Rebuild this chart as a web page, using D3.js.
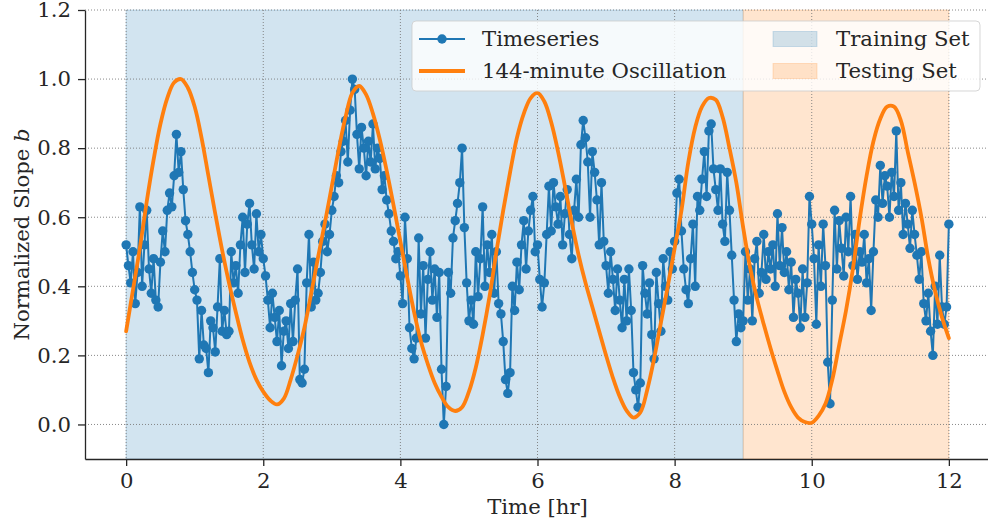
<!DOCTYPE html>
<html>
<head>
<meta charset="utf-8">
<script src="https://cdn.jsdelivr.net/npm/d3@7"></script>
<style>
  body { margin: 0; background: #fff; }
  svg { display: block; font-family: 'DejaVu Serif', serif; }
</style>
</head>
<body>
<main></main>
<script>
// normalized slope, one reading every 2 minutes from 0 to 12 hr (one row per hour)
const timeseriesStepMinutes = 2;
const timeseriesValues = [
  0.52, 0.46, 0.41, 0.50, 0.35, 0.44, 0.63, 0.40, 0.52, 0.62, 0.45, 0.38, 0.48, 0.36, 0.34, 0.47, 0.56, 0.50, 0.62, 0.67, 0.63, 0.72, 0.84, 0.73, 0.79, 0.68, 0.59, 0.55, 0.50, 0.44,
  0.39, 0.36, 0.19, 0.33, 0.23, 0.22, 0.15, 0.30, 0.28, 0.21, 0.34, 0.48, 0.27, 0.33, 0.26, 0.27, 0.50, 0.41, 0.46, 0.38, 0.52, 0.60, 0.44, 0.58, 0.64, 0.52, 0.45, 0.61, 0.50, 0.55,
  0.48, 0.43, 0.36, 0.28, 0.38, 0.31, 0.24, 0.33, 0.17, 0.27, 0.30, 0.22, 0.35, 0.24, 0.36, 0.45, 0.13, 0.12, 0.16, 0.41, 0.55, 0.34, 0.47, 0.36, 0.38, 0.44, 0.53, 0.58, 0.50, 0.55,
  0.62, 0.66, 0.72, 0.70, 0.79, 0.82, 0.88, 0.76, 0.91, 1.00, 0.97, 0.84, 0.74, 0.86, 0.80, 0.72, 0.82, 0.76, 0.87, 0.74, 0.80, 0.77, 0.68, 0.72, 0.65, 0.61, 0.56, 0.53, 0.48, 0.50,
  0.43, 0.35, 0.60, 0.48, 0.28, 0.22, 0.19, 0.25, 0.54, 0.32, 0.46, 0.25, 0.42, 0.50, 0.36, 0.45, 0.31, 0.44, 0.16, 0.00, 0.11, 0.44, 0.38, 0.54, 0.59, 0.64, 0.70, 0.80, 0.57, 0.41,
  0.30, 0.36, 0.29, 0.50, 0.37, 0.48, 0.63, 0.40, 0.52, 0.44, 0.55, 0.38, 0.50, 0.35, 0.32, 0.24, 0.13, 0.09, 0.15, 0.40, 0.33, 0.47, 0.39, 0.52, 0.59, 0.45, 0.56, 0.62, 0.66, 0.50,
  0.52, 0.42, 0.34, 0.41, 0.55, 0.69, 0.56, 0.70, 0.63, 0.58, 0.66, 0.52, 0.61, 0.68, 0.55, 0.48, 0.62, 0.71, 0.60, 0.81, 0.88, 0.83, 0.76, 0.60, 0.79, 0.73, 0.65, 0.52, 0.70, 0.53,
  0.46, 0.38, 0.50, 0.42, 0.33, 0.45, 0.36, 0.28, 0.42, 0.30, 0.45, 0.33, 0.15, 0.10, 0.05, 0.12, 0.46, 0.38, 0.32, 0.41, 0.26, 0.19, 0.44, 0.35, 0.27, 0.48, 0.40, 0.36, 0.50, 0.45,
  0.53, 0.67, 0.71, 0.56, 0.45, 0.39, 0.35, 0.48, 0.58, 0.40, 0.66, 0.62, 0.71, 0.79, 0.66, 0.85, 0.87, 0.74, 0.68, 0.62, 0.74, 0.58, 0.53, 0.73, 0.62, 0.49, 0.36, 0.24, 0.32, 0.28,
  0.30, 0.50, 0.36, 0.45, 0.30, 0.48, 0.53, 0.38, 0.44, 0.55, 0.42, 0.50, 0.45, 0.52, 0.40, 0.61, 0.46, 0.57, 0.44, 0.50, 0.39, 0.47, 0.31, 0.42, 0.38, 0.28, 0.45, 0.31, 0.41, 0.66,
  0.58, 0.48, 0.29, 0.52, 0.40, 0.58, 0.46, 0.18, 0.06, 0.36, 0.62, 0.45, 0.59, 0.51, 0.43, 0.60, 0.50, 0.66, 0.46, 0.55, 0.42, 0.50, 0.47, 0.55, 0.41, 0.48, 0.33, 0.50, 0.65, 0.60,
  0.75, 0.64, 0.72, 0.69, 0.60, 0.73, 0.66, 0.85, 0.62, 0.70, 0.55, 0.64, 0.58, 0.51, 0.62, 0.55, 0.49, 0.42, 0.50, 0.35, 0.30, 0.38, 0.27, 0.20, 0.40, 0.29, 0.49, 0.34, 0.29, 0.34,
  0.58
];

const oscillationStepMinutes = 6;
const oscillationValues = [
  0.27, 0.39, 0.51, 0.645, 0.766, 0.87, 0.945, 0.99, 1.0, 0.975,
  0.92, 0.83, 0.72, 0.61, 0.505, 0.41, 0.325, 0.245, 0.18, 0.13,
  0.095, 0.07, 0.058, 0.075, 0.13, 0.20, 0.28, 0.38, 0.485, 0.585,
  0.69, 0.795, 0.89, 0.96, 0.98, 0.955, 0.90, 0.825, 0.735, 0.635,
  0.53, 0.425, 0.325, 0.24, 0.175, 0.12, 0.08, 0.05, 0.039, 0.05,
  0.095, 0.165, 0.26, 0.37, 0.50, 0.62, 0.73, 0.83, 0.90, 0.945,
  0.96, 0.935, 0.875, 0.79, 0.69, 0.585, 0.49, 0.41, 0.34, 0.27,
  0.20, 0.135, 0.08, 0.04, 0.02, 0.035, 0.10, 0.19, 0.295, 0.40,
  0.51, 0.62, 0.76, 0.86, 0.92, 0.945, 0.94, 0.89, 0.80, 0.70,
  0.57, 0.455, 0.365, 0.29, 0.22, 0.155, 0.095, 0.05, 0.02, 0.007,
  0.005, 0.025, 0.06, 0.13, 0.23, 0.33, 0.45, 0.595, 0.72, 0.82,
  0.885, 0.92, 0.92, 0.88, 0.79, 0.70, 0.60, 0.48, 0.385, 0.31,
  0.25
];

const xTicks = [0, 2, 4, 6, 8, 10, 12];
const yTicks = [0, 0.2, 0.4, 0.6, 0.8, 1.0, 1.2];
const seriesNames = ['Timeseries', '144-minute Oscillation'];
const splitNames = ['Training Set', 'Testing Set'];
const splitStarts = [0, 9];
const splitEnds = [9, 12];

const blue = '#1f77b4';
const orange = '#ff7f0e';
const ink = '#262626';
const fontSize = 21.2;

const timeseries = timeseriesValues.map((v, i) => ({ t: (i * timeseriesStepMinutes) / 60, v }));
const oscillation = oscillationValues.map((v, i) => ({ t: (i * oscillationStepMinutes) / 60, v }));
const splits = splitNames.map((name, i) => ({
  name,
  start: splitStarts[i],
  end: splitEnds[i],
  color: i === 0 ? blue : orange,
}));

const main = d3.select('main');

function drawChart() {
  const dimensions = {
    width: 988,
    height: 523,
    margin: { top: 10, right: -2, bottom: 64, left: 85 },
  };
  dimensions.boundedWidth =
    dimensions.width - (dimensions.margin.left + dimensions.margin.right);
  dimensions.boundedHeight =
    dimensions.height - (dimensions.margin.top + dimensions.margin.bottom);

  const xScale = d3
    .scaleLinear()
    .domain([-0.6, 12.6])
    .range([0, dimensions.boundedWidth]);
  const yScale = d3
    .scaleLinear()
    .domain([-0.1, 1.2])
    .range([dimensions.boundedHeight, 0]);

  const svg = main
    .append('svg')
    .attr('viewBox', [0, 0, dimensions.width, dimensions.height])
    .attr('width', dimensions.width)
    .attr('height', dimensions.height);

  const viz = svg
    .append('g')
    .attr('transform', `translate(${dimensions.margin.left} ${dimensions.margin.top})`);

  // training / testing spans
  viz
    .append('g')
    .selectAll('rect')
    .data(splits)
    .enter()
    .append('rect')
    .attr('x', d => xScale(d.start))
    .attr('y', 0)
    .attr('width', d => xScale(d.end) - xScale(d.start))
    .attr('height', dimensions.boundedHeight)
    .attr('fill', d => d.color)
    .attr('fill-opacity', 0.2)
    .attr('stroke', d => d.color)
    .attr('stroke-opacity', 0.2);

  // dotted grid
  const grid = viz
    .append('g')
    .attr('stroke', '#7a7a7a')
    .attr('stroke-width', 0.9)
    .attr('stroke-dasharray', '1 2');
  grid
    .selectAll('line.x')
    .data(xTicks)
    .enter()
    .append('line')
    .attr('x1', d => xScale(d))
    .attr('x2', d => xScale(d))
    .attr('y1', 0)
    .attr('y2', dimensions.boundedHeight);
  grid
    .selectAll('line.y')
    .data(yTicks)
    .enter()
    .append('line')
    .attr('x1', 0)
    .attr('x2', dimensions.boundedWidth)
    .attr('y1', d => yScale(d))
    .attr('y2', d => yScale(d));

  // timeseries
  const tsLine = d3
    .line()
    .x(d => xScale(d.t))
    .y(d => yScale(d.v));
  const tsGroup = viz.append('g');
  tsGroup
    .append('path')
    .datum(timeseries)
    .attr('fill', 'none')
    .attr('stroke', blue)
    .attr('stroke-width', 2)
    .attr('d', tsLine);
  tsGroup
    .selectAll('circle')
    .data(timeseries)
    .enter()
    .append('circle')
    .attr('cx', d => xScale(d.t))
    .attr('cy', d => yScale(d.v))
    .attr('r', 4.7)
    .attr('fill', blue);

  // oscillation
  viz
    .append('path')
    .datum(oscillation)
    .attr('fill', 'none')
    .attr('stroke', orange)
    .attr('stroke-width', 3.8)
    .attr('stroke-linecap', 'round')
    .attr('d', d3.line().curve(d3.curveCatmullRom).x(d => xScale(d.t)).y(d => yScale(d.v)));

  // axes
  const xAxis = d3
    .axisBottom(xScale)
    .tickValues(xTicks)
    .tickSize(7)
    .tickSizeOuter(0)
    .tickPadding(7)
    .tickFormat(d3.format('d'));
  const yAxis = d3
    .axisLeft(yScale)
    .tickValues(yTicks)
    .tickSize(7)
    .tickSizeOuter(0)
    .tickPadding(7)
    .tickFormat(d3.format('.1f'));

  const xAxisGroup = viz
    .append('g')
    .attr('transform', `translate(0 ${dimensions.boundedHeight})`)
    .call(xAxis);
  const yAxisGroup = viz.append('g').call(yAxis);

  [xAxisGroup, yAxisGroup].forEach(g => {
    g.attr('font-family', null).attr('font-size', fontSize);
    g.select('path.domain').attr('stroke', ink).attr('stroke-width', 1.3);
    g.selectAll('.tick line').attr('stroke', ink).attr('stroke-width', 1.3);
    g.selectAll('.tick text').attr('fill', ink);
  });

  // axis labels
  viz
    .append('text')
    .attr('x', dimensions.boundedWidth / 2)
    .attr('y', dimensions.boundedHeight + 55)
    .attr('text-anchor', 'middle')
    .attr('font-size', fontSize)
    .attr('fill', ink)
    .text('Time [hr]');

  const yLabel = viz
    .append('text')
    .attr('transform', `translate(${22 - dimensions.margin.left} ${dimensions.boundedHeight / 2}) rotate(-90)`)
    .attr('text-anchor', 'middle')
    .attr('dy', '0.35em')
    .attr('font-size', fontSize)
    .attr('fill', ink);
  yLabel.append('tspan').text('Normalized Slope ');
  yLabel.append('tspan').attr('font-style', 'italic').text('b');

  // legend
  const legend = svg.append('g').attr('transform', 'translate(412 21)');
  legend
    .append('rect')
    .attr('width', 568)
    .attr('height', 70)
    .attr('rx', 4)
    .attr('fill', '#fff')
    .attr('fill-opacity', 0.8)
    .attr('stroke', '#cccccc')
    .attr('stroke-opacity', 0.8);

  const rowY = [18, 50];

  const lineItems = legend
    .selectAll('g.series')
    .data(seriesNames)
    .enter()
    .append('g')
    .attr('transform', (d, i) => `translate(0 ${rowY[i]})`);
  lineItems
    .append('line')
    .attr('x1', 7)
    .attr('x2', 53)
    .attr('stroke', (d, i) => (i === 0 ? blue : orange))
    .attr('stroke-width', (d, i) => (i === 0 ? 2 : 3.8));
  lineItems
    .filter((d, i) => i === 0)
    .append('circle')
    .attr('cx', 30)
    .attr('r', 4.7)
    .attr('fill', blue);
  lineItems
    .append('text')
    .attr('x', 70)
    .attr('dy', '0.35em')
    .attr('font-size', fontSize)
    .attr('fill', ink)
    .text(d => d);

  const patchItems = legend
    .selectAll('g.split')
    .data(splits)
    .enter()
    .append('g')
    .attr('transform', (d, i) => `translate(361 ${rowY[i]})`);
  patchItems
    .append('rect')
    .attr('y', -7.5)
    .attr('width', 44)
    .attr('height', 15)
    .attr('fill', d => d.color)
    .attr('fill-opacity', 0.2)
    .attr('stroke', d => d.color)
    .attr('stroke-opacity', 0.2);
  patchItems
    .append('text')
    .attr('x', 63)
    .attr('dy', '0.35em')
    .attr('font-size', fontSize)
    .attr('fill', ink)
    .text(d => d.name);
}

drawChart();
</script>
</body>
</html>
